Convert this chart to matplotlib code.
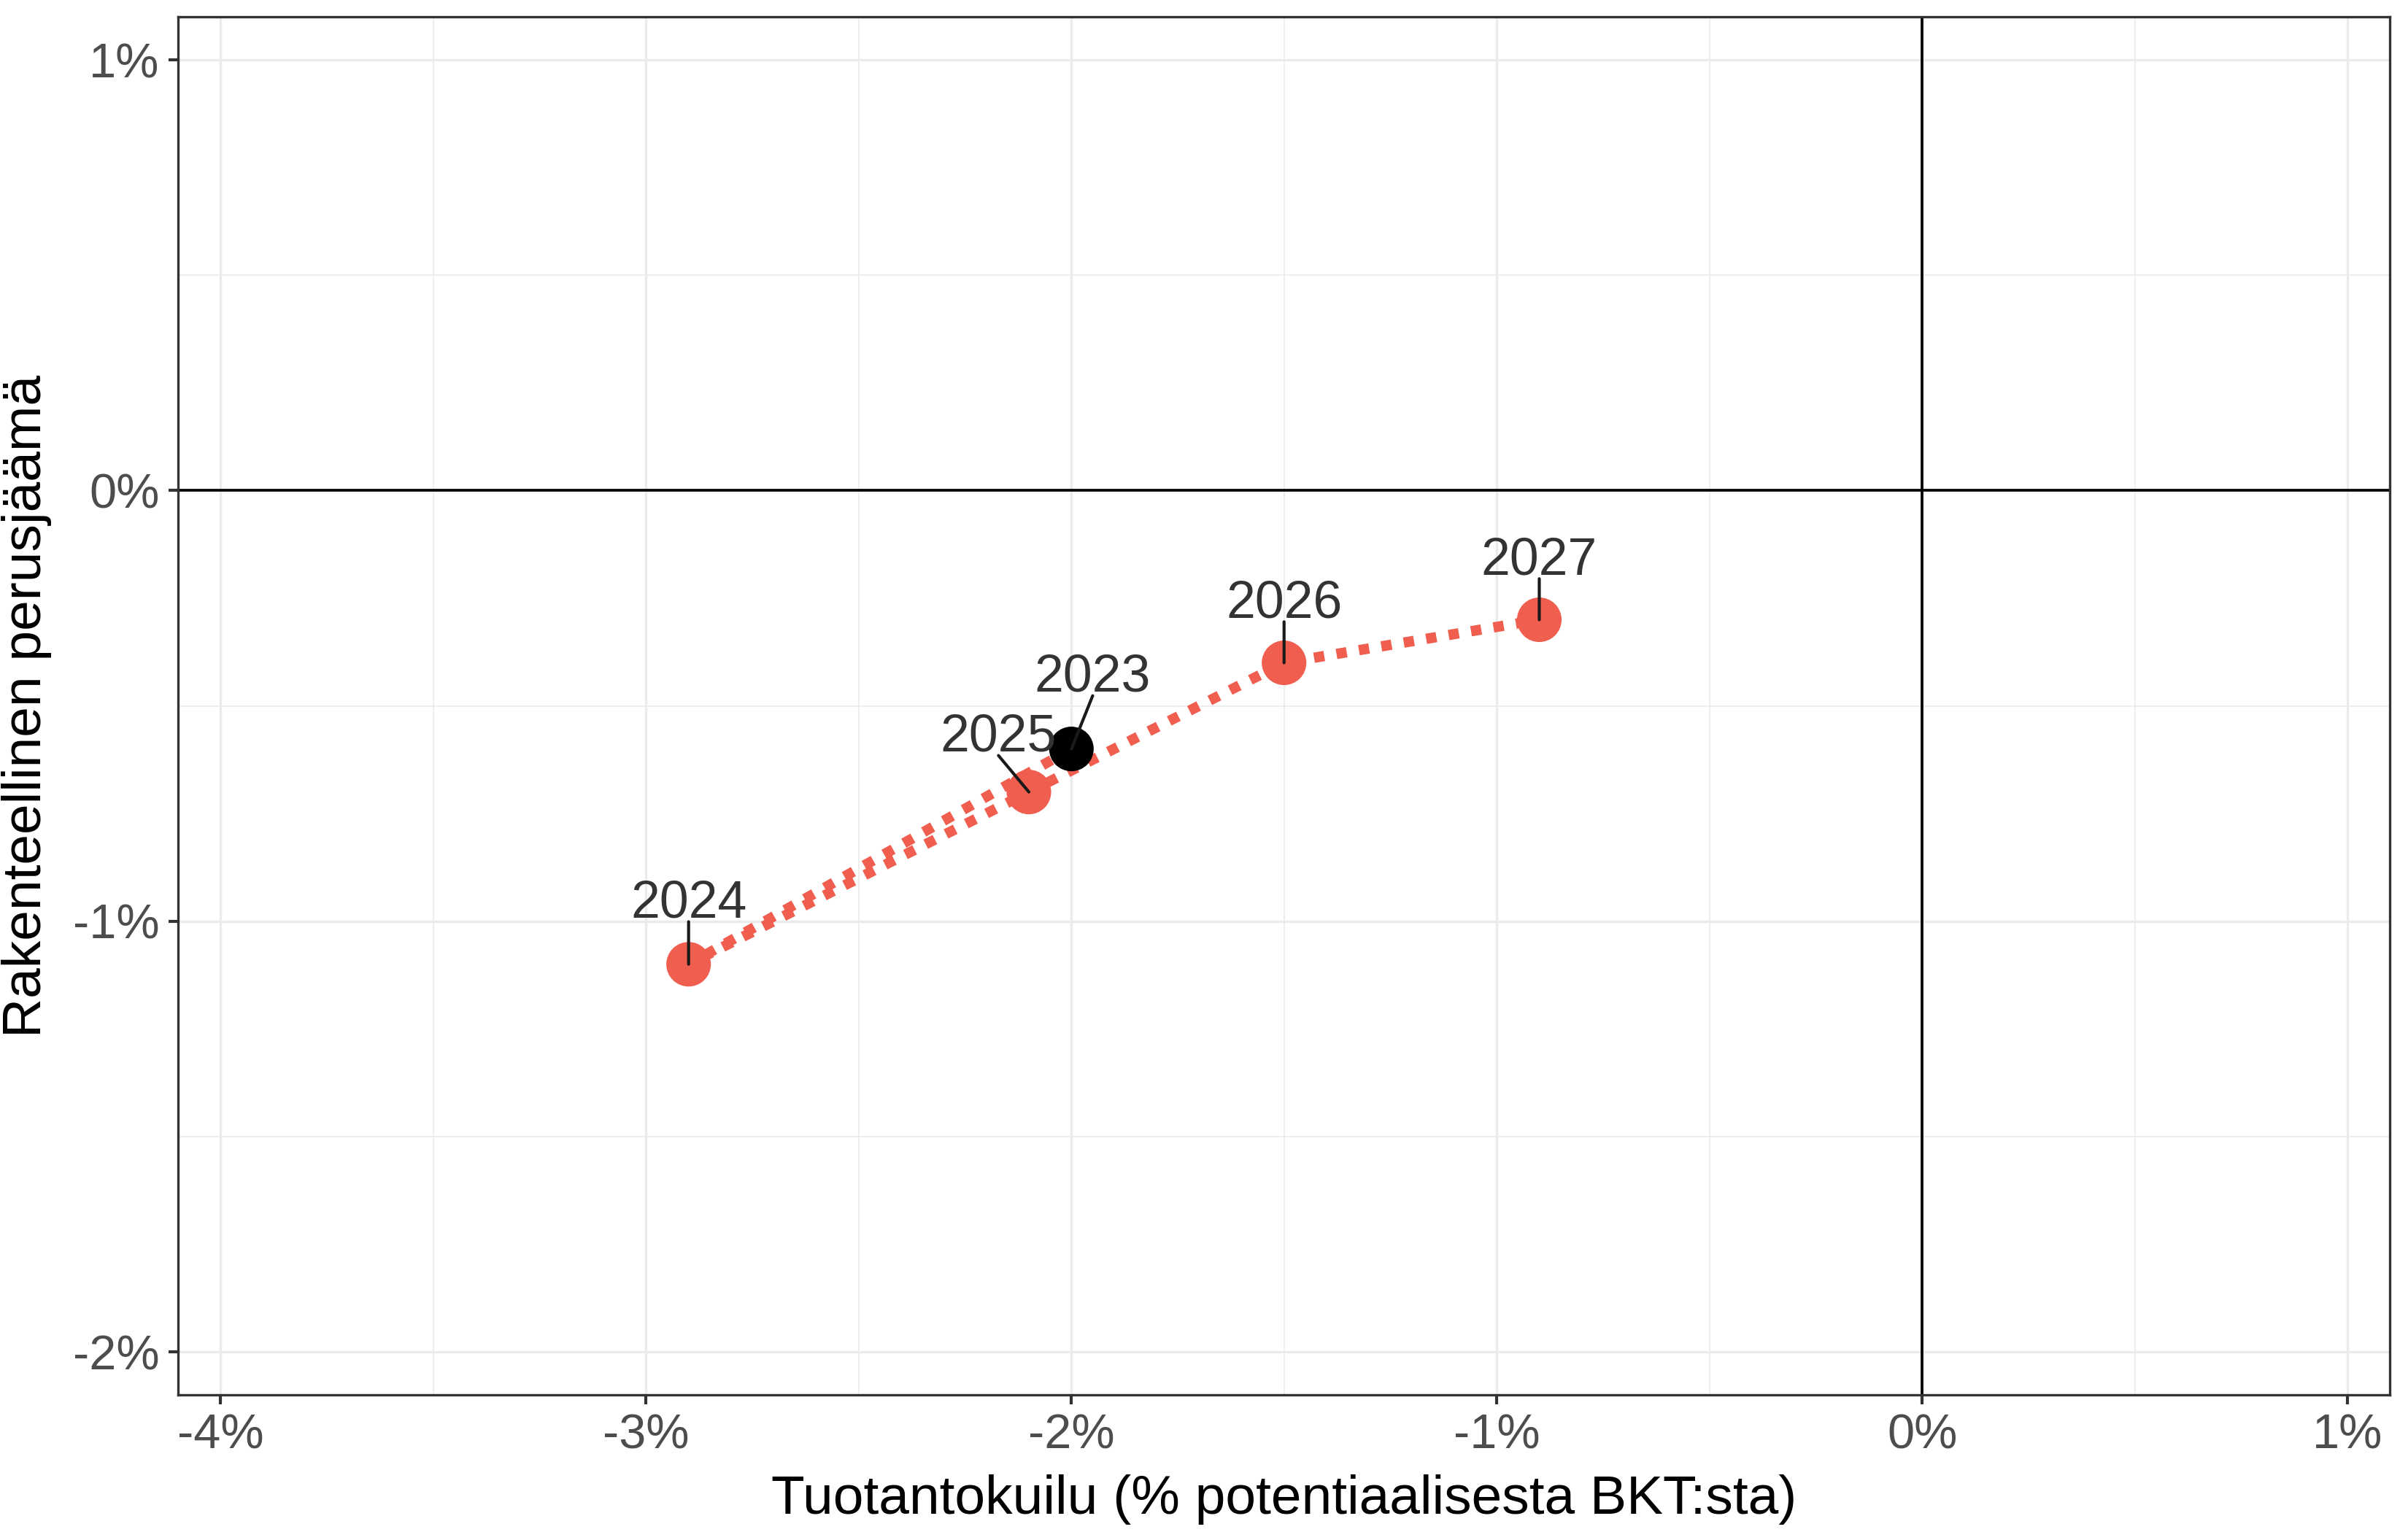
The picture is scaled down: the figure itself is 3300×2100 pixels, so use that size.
import matplotlib.pyplot as plt
from matplotlib.ticker import MultipleLocator, FuncFormatter

plt.rcParams['font.family'] = ['Liberation Sans', 'DejaVu Sans']

# Data (years in path order)
years = ["2023", "2024", "2025", "2026", "2027"]
output_gap = [-2.0, -2.9, -2.1, -1.5, -0.9]
structural_balance = [-0.6, -1.1, -0.7, -0.4, -0.3]

# label offsets in points (dx, dy) from each point
label_offsets = [(7, 19), (0, 15.5), (-10, 13.5), (0, 15), (0, 15)]

red = "#F05E4F"

fig = plt.figure(figsize=(11, 7), dpi=300)
ax = fig.add_axes([0.074, 0.0895, 0.9185, 0.8995])

ax.set_xlim(-4.1, 1.1)
ax.set_ylim(-2.1, 1.1)

# grid
ax.xaxis.set_major_locator(MultipleLocator(1))
ax.yaxis.set_major_locator(MultipleLocator(1))
ax.xaxis.set_minor_locator(MultipleLocator(0.5))
ax.yaxis.set_minor_locator(MultipleLocator(0.5))
ax.grid(which="major", color="#EBEBEB", linewidth=0.8, zorder=0)
ax.grid(which="minor", color="#EBEBEB", linewidth=0.4, zorder=0)
ax.set_axisbelow(True)

ax.axhline(0, color="black", linewidth=0.9, zorder=1)
ax.axvline(0, color="black", linewidth=0.9, zorder=1)

# path
ax.plot(output_gap, structural_balance, color=red, linewidth=3.4,
        linestyle=(0, (1, 1.2)), dash_capstyle="butt", zorder=2)

# points
colors = ["black"] + [red] * (len(years) - 1)
ax.scatter(output_gap, structural_balance, s=215, c=colors,
           linewidths=0, zorder=3)

# labels with segments
for x, y, lab, (dx, dy) in zip(output_gap, structural_balance, years, label_offsets):
    ax.annotate(lab, xy=(x, y), xytext=(dx, dy), textcoords="offset points",
                ha="center", va="baseline", fontsize=17.2, color="#333333",
                zorder=4)
    ax.annotate("", xy=(x, y), xytext=(dx, dy - 1.5), textcoords="offset points",
                arrowprops=dict(arrowstyle="-", color="#1a1a1a", linewidth=1.0,
                                shrinkA=0, shrinkB=0), zorder=4)

pct = FuncFormatter(lambda v, p: f"{v:.0f}%")
ax.xaxis.set_major_formatter(pct)
ax.yaxis.set_major_formatter(pct)

ax.tick_params(which="major", length=3.2, width=1.0, color="#333333",
               labelsize=16, labelcolor="#4D4D4D", pad=3)
ax.tick_params(which="minor", length=0)

for s in ax.spines.values():
    s.set_color("#333333")
    s.set_linewidth(0.8)

ax.set_xlabel("Tuotantokuilu (% potentiaalisesta BKT:sta)", fontsize=18,
              color="black", labelpad=5)
ax.set_ylabel("Rakenteellinen perusjäämä", fontsize=18, color="black",
              labelpad=7)

fig.savefig("out.png", dpi=300)
